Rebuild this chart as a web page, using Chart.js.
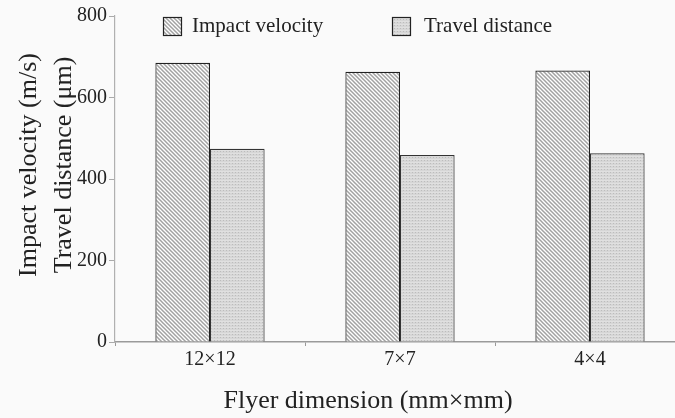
<!DOCTYPE html>
<html>
<head>
<meta charset="utf-8">
<script src="https://cdn.jsdelivr.net/npm/chart.js@4.4.1/dist/chart.umd.min.js"></script>
<style>
  html, body { margin: 0; padding: 0; background: #fafafa; overflow: hidden; }
  #wrap { width: 675px; height: 418px; position: relative; overflow: hidden; }
</style>
</head>
<body>
<div id="wrap"><canvas id="c" width="685" height="418"></canvas></div>
<script>
// ---- data ----
const categories = ['12×12', '7×7', '4×4'];
const impactVelocity = [685, 663, 666];
const travelDistance = [474, 459, 463];
const seriesNames = ['Impact velocity', 'Travel distance'];
const yTicks = [0, 200, 400, 600, 800];
const xTitle = 'Flyer dimension (mm×mm)';
const yTitleLines = ['Impact velocity (m/s)', 'Travel distance (μm)'];

const SERIF = '"Liberation Serif", "Times New Roman", serif';

function hatchPattern() {
  const c = document.createElement('canvas');
  c.width = 4; c.height = 4;
  const g = c.getContext('2d');
  g.fillStyle = '#ffffff';
  g.fillRect(0, 0, 4, 4);
  g.strokeStyle = '#a2a2a2';
  g.lineWidth = 1.5;
  g.beginPath();
  g.moveTo(-1, -1); g.lineTo(5, 5);
  g.moveTo(-1, 3); g.lineTo(1, 5);
  g.moveTo(3, -1); g.lineTo(5, 1);
  g.stroke();
  return g.createPattern(c, 'repeat');
}
function stipplePattern() {
  const c = document.createElement('canvas');
  c.width = 3; c.height = 3;
  const g = c.getContext('2d');
  g.fillStyle = '#d6d6d6';
  g.fillRect(0, 0, 3, 3);
  g.fillStyle = '#e0e0e0';
  g.fillRect(0, 0, 3, 1);
  g.fillStyle = '#bcbcbc';
  g.fillRect(1, 1, 1, 1);
  return g.createPattern(c, 'repeat');
}
const fills = [hatchPattern(), stipplePattern()];

const bgPlugin = {
  id: 'bg',
  beforeDraw(chart) {
    const ctx = chart.ctx;
    ctx.save();
    ctx.fillStyle = '#fafafa';
    ctx.fillRect(0, 0, chart.width, chart.height);
    ctx.restore();
  }
};

const textPlugin = {
  id: 'texts',
  afterDraw(chart) {
    const ctx = chart.ctx;
    ctx.save();
    // legend
    const legendPos = [[163, 17, 192], [392, 17, 424]];
    ctx.font = '21px ' + SERIF;
    ctx.textBaseline = 'alphabetic';
    ctx.textAlign = 'left';
    legendPos.forEach((p, i) => {
      ctx.fillStyle = fills[i];
      ctx.fillRect(p[0], p[1], 18, 18);
      ctx.strokeStyle = '#222';
      ctx.lineWidth = 1.2;
      ctx.strokeRect(p[0] + 0.5, p[1] + 0.5, 18, 18);
      ctx.fillStyle = '#222';
      ctx.fillText(seriesNames[i], p[2], 32);
    });
    // x title
    ctx.font = '26px ' + SERIF;
    ctx.textAlign = 'center';
    ctx.fillStyle = '#222';
    ctx.fillText(xTitle, 368, 408);
    // y title (two lines)
    const baseX = [36, 71];
    yTitleLines.forEach((t, i) => {
      ctx.save();
      ctx.translate(baseX[i], 165);
      ctx.rotate(-Math.PI / 2);
      ctx.textAlign = 'center';
      ctx.textBaseline = 'alphabetic';
      ctx.fillText(t, 0, 0);
      ctx.restore();
    });
    ctx.restore();
  }
};

new Chart(document.getElementById('c'), {
  type: 'bar',
  data: {
    labels: categories,
    datasets: [
      {
        label: seriesNames[0],
        data: impactVelocity,
        backgroundColor: fills[0],
        borderColor: '#222',
        borderWidth: 1.2,
        borderSkipped: 'bottom'
      },
      {
        label: seriesNames[1],
        data: travelDistance,
        backgroundColor: fills[1],
        borderColor: '#333',
        borderWidth: 1.2,
        borderSkipped: 'bottom'
      }
    ]
  },
  options: {
    responsive: false,
    animation: false,
    devicePixelRatio: 1,
    layout: { padding: { top: 16, right: 0, left: 0, bottom: 0 } },
    datasets: { bar: { categoryPercentage: 0.575, barPercentage: 1.0 } },
    plugins: {
      legend: { display: false },
      tooltip: { enabled: false },
      title: { display: false }
    },
    scales: {
      x: {
        type: 'category',
        grid: {
          display: true,
          drawOnChartArea: false,
          drawTicks: true,
          tickLength: 4,
          color: '#999',
          offset: true
        },
        border: { display: true, color: '#9a9a9a', width: 1.5 },
        ticks: {
          color: '#222',
          font: { family: SERIF, size: 20 },
          padding: 2,
          maxRotation: 0
        },
        afterFit(scale) { scale.height = 76; }
      },
      y: {
        min: 0,
        max: 800,
        afterBuildTicks(scale) { scale.ticks = yTicks.map(v => ({ value: v })); },
        grid: {
          display: true,
          drawOnChartArea: false,
          drawTicks: true,
          tickLength: 6,
          color: '#aaa'
        },
        border: { display: true, color: '#b0b0b0', width: 1.2 },
        ticks: {
          color: '#222',
          font: { family: SERIF, size: 20 },
          padding: 2
        },
        afterFit(scale) { scale.width = 115; }
      }
    }
  },
  plugins: [bgPlugin, textPlugin]
});
</script>
</body>
</html>
